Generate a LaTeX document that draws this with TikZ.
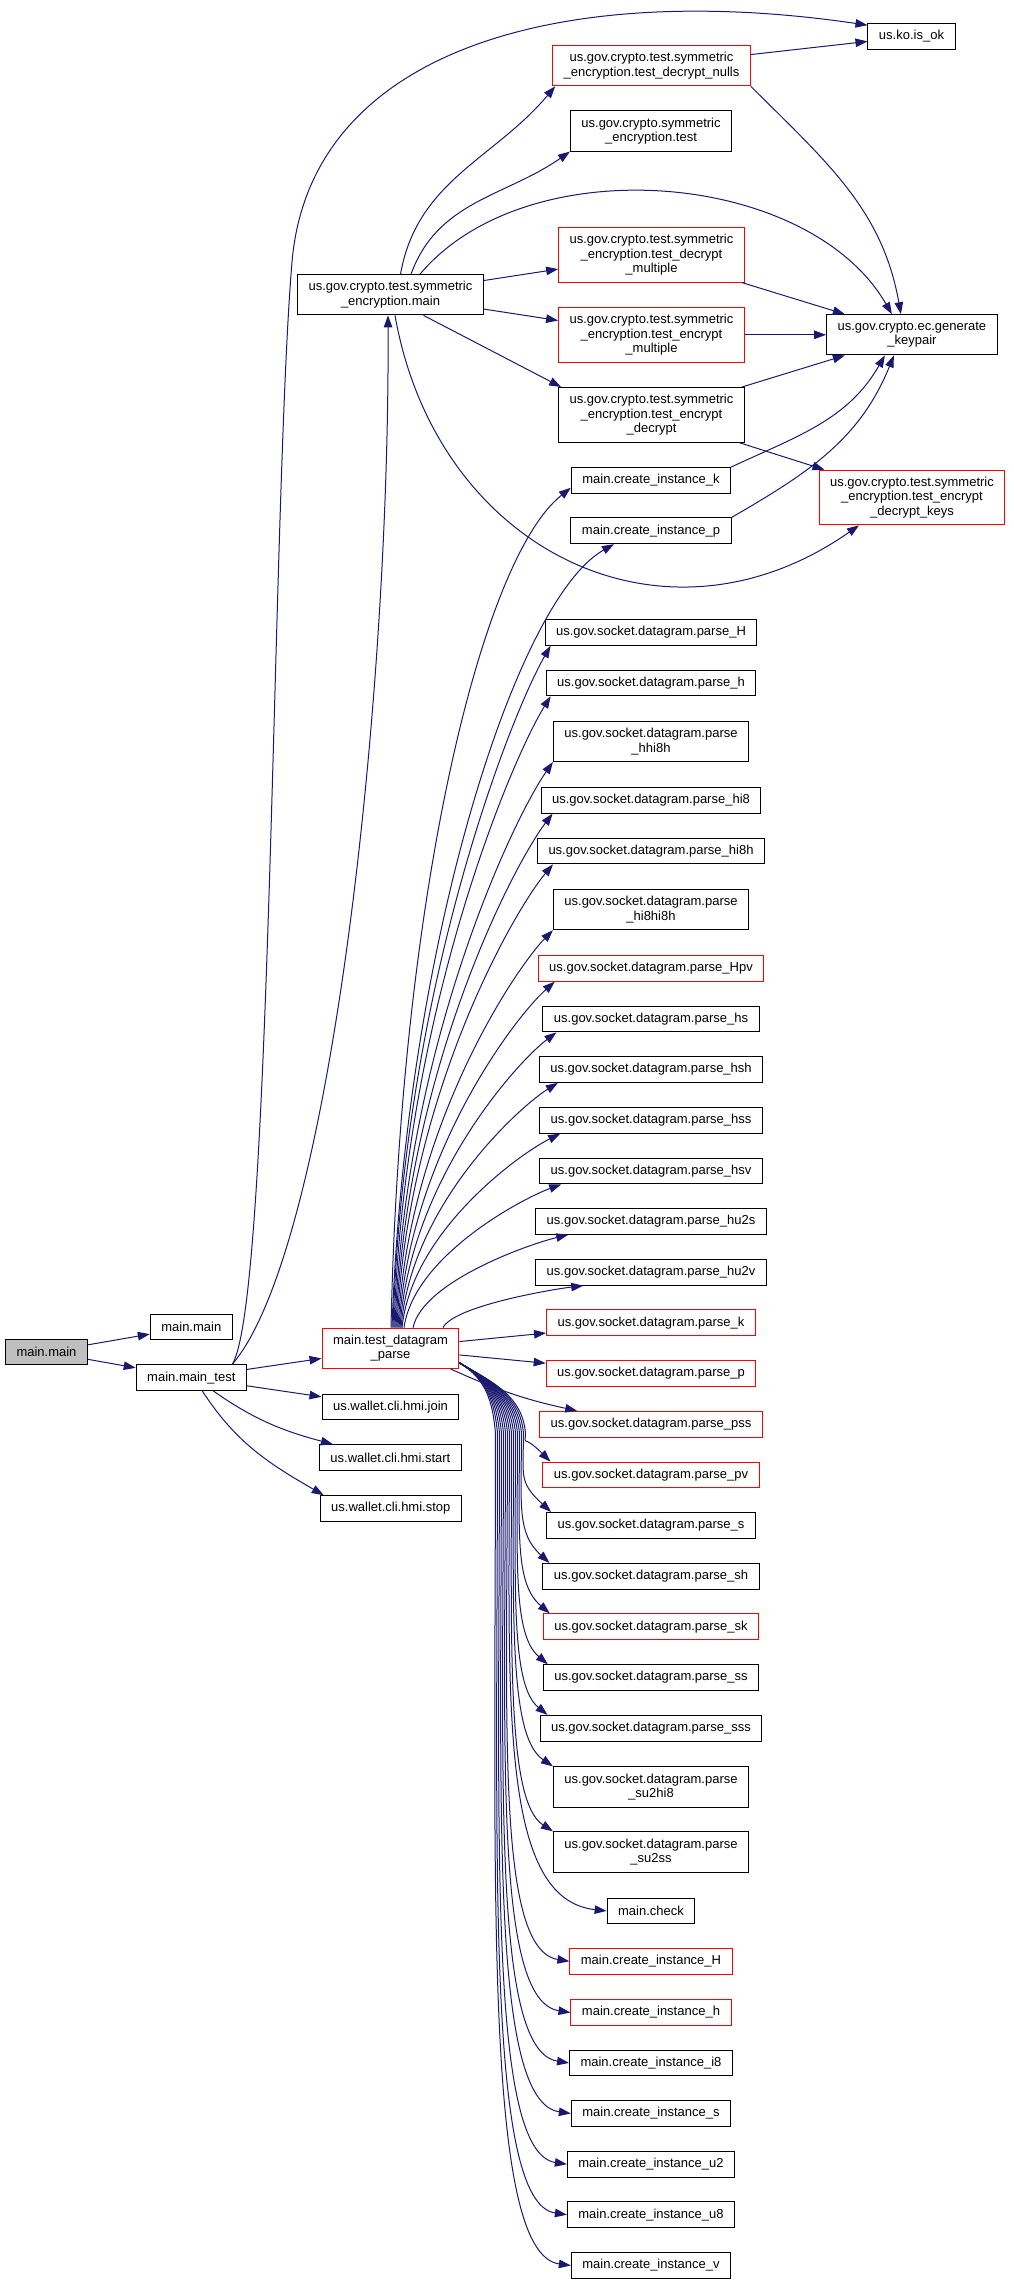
\documentclass[tikz,border=0pt]{standalone}
\usepackage{fontspec}
\setmainfont{Liberation Sans}
\usetikzlibrary{arrows.meta,calc}

\begin{document}
\begin{tikzpicture}[x=1pt,y=-1pt,
  fn/.style={draw=black,line width=1pt,fill=white,inner xsep=11pt,inner ysep=2pt,
    minimum height=25.7pt,align=center,font=\fontsize{13}{14.4}\selectfont},
  redfn/.style={fn,draw=red},
  two/.style={minimum height=40.2pt},
  three/.style={minimum height=54.6pt},
  edge/.style={draw=edgeblue,line width=1pt,-{Triangle[length=12pt,width=8.5pt]}}]
\definecolor{edgeblue}{RGB}{25,25,112}
\definecolor{rootgray}{RGB}{191,191,191}
\useasboundingbox (0,0) rectangle (1013,2284);

% left part
\node[fn,fill=rootgray] (mainmain) at (46.5,1352) {main.main};
\node[fn] (mmain) at (191.3,1326.9) {main.main};
\node[fn] (mtest) at (191.3,1377.6) {main.main\_test};
\node[redfn,two] (tdp) at (390.5,1348.3) {main.test\_datagram\\\_parse};
\node[fn] (join) at (390.5,1406.9) {us.wallet.cli.hmi.join};
\node[fn] (start) at (390.4,1457.6) {us.wallet.cli.hmi.start};
\node[fn] (stop) at (390.8,1508.5) {us.wallet.cli.hmi.stop};
\node[fn,two] (semain) at (390.5,294.8) {us.gov.crypto.test.symmetric\\\_encryption.main};

% crypto column
\node[redfn,two] (nulls) at (651.5,65.7) {us.gov.crypto.test.symmetric\\\_encryption.test\_decrypt\_nulls};
\node[fn,two] (setest) at (651,131) {us.gov.crypto.symmetric\\\_encryption.test};
\node[redfn,three] (decmult) at (651.5,254.8) {us.gov.crypto.test.symmetric\\\_encryption.test\_decrypt\\\_multiple};
\node[redfn,three] (encmult) at (651.5,334.8) {us.gov.crypto.test.symmetric\\\_encryption.test\_encrypt\\\_multiple};
\node[fn,three] (encdec) at (651.5,414.8) {us.gov.crypto.test.symmetric\\\_encryption.test\_encrypt\\\_decrypt};
\node[fn] (cik) at (651,480.4) {main.create\_instance\_k};
\node[fn] (cip) at (651,530.8) {main.create\_instance\_p};

% right column
\node[fn] (isok) at (911.5,36.5) {us.ko.is\_ok};
\node[fn,two] (keypair) at (911.9,334.8) {us.gov.crypto.ec.generate\\\_keypair};
\node[redfn,three] (keys) at (912,497.5) {us.gov.crypto.test.symmetric\\\_encryption.test\_encrypt\\\_decrypt\_keys};

% datagram column
\node[fn] (pH) at (651,632.5) {us.gov.socket.datagram.parse\_H};
\node[fn] (ph) at (651,682.9) {us.gov.socket.datagram.parse\_h};
\node[fn,two] (phhi8h) at (651,741.4) {us.gov.socket.datagram.parse\\\_hhi8h};
\node[fn] (phi8) at (651,800.2) {us.gov.socket.datagram.parse\_hi8};
\node[fn] (phi8h) at (651,851) {us.gov.socket.datagram.parse\_hi8h};
\node[fn,two] (phi8hi8h) at (651,909.6) {us.gov.socket.datagram.parse\\\_hi8hi8h};
\node[redfn] (pHpv) at (651,968.3) {us.gov.socket.datagram.parse\_Hpv};
\node[fn] (phs) at (651,1019) {us.gov.socket.datagram.parse\_hs};
\node[fn] (phsh) at (651,1069.5) {us.gov.socket.datagram.parse\_hsh};
\node[fn] (phss) at (651,1120.4) {us.gov.socket.datagram.parse\_hss};
\node[fn] (phsv) at (651,1171) {us.gov.socket.datagram.parse\_hsv};
\node[fn] (phu2s) at (651,1221.4) {us.gov.socket.datagram.parse\_hu2s};
\node[fn] (phu2v) at (651,1272.3) {us.gov.socket.datagram.parse\_hu2v};
\node[redfn] (pk) at (651,1322.8) {us.gov.socket.datagram.parse\_k};
\node[redfn] (pp) at (651,1373.3) {us.gov.socket.datagram.parse\_p};
\node[redfn] (ppss) at (651,1424.2) {us.gov.socket.datagram.parse\_pss};
\node[redfn] (ppv) at (651,1475) {us.gov.socket.datagram.parse\_pv};
\node[fn] (ps) at (651,1525.3) {us.gov.socket.datagram.parse\_s};
\node[fn] (psh) at (651,1576.2) {us.gov.socket.datagram.parse\_sh};
\node[redfn] (psk) at (651,1626.7) {us.gov.socket.datagram.parse\_sk};
\node[fn] (pss) at (651,1677.6) {us.gov.socket.datagram.parse\_ss};
\node[fn] (psss) at (651,1728.2) {us.gov.socket.datagram.parse\_sss};
\node[fn,two] (psu2hi8) at (651,1786.9) {us.gov.socket.datagram.parse\\\_su2hi8};
\node[fn,two] (psu2ss) at (651,1851.9) {us.gov.socket.datagram.parse\\\_su2ss};
\node[fn] (check) at (651,1910.9) {main.check};
\node[redfn] (ciH) at (651,1961.3) {main.create\_instance\_H};
\node[redfn] (cih) at (651,2012.5) {main.create\_instance\_h};
\node[fn] (cii8) at (651,2062.9) {main.create\_instance\_i8};
\node[fn] (cis) at (651,2113.5) {main.create\_instance\_s};
\node[fn] (ciu2) at (651,2164.2) {main.create\_instance\_u2};
\node[fn] (ciu8) at (651,2214.7) {main.create\_instance\_u8};
\node[fn] (civ) at (651,2265.5) {main.create\_instance\_v};

% calls of main.main and main.main_test
\draw[edge] (mainmain) -- (mmain);
\draw[edge] (mainmain) -- (mtest);
\draw[edge] (mtest) -- (tdp);
\draw[edge] (mtest) -- (join);
\draw[edge] ([xshift=22pt]mtest.south) to[out=-35,in=165] ([xshift=14pt]start.north west);
\draw[edge] ([xshift=11pt]mtest.south) to[out=-57,in=150] ([xshift=4pt]stop.north west);
\draw[edge] ([xshift=41pt]mtest.north) .. controls (330,1250) and (390,700) .. ([xshift=-2.5pt]semain.south);
\coordinate (okbend) at (292,262);
\draw[edge] ([xshift=41pt]mtest.north) .. controls (272,1300) and (272,500) .. (okbend)
  .. controls (310,50) and (560,-20) .. ([yshift=-2pt]isok.north west);

% symmetric_encryption.main
\draw[edge] ([xshift=10pt]semain.north) to[out=80,in=-130] ([xshift=3pt]nulls.south west);
\draw[edge] ([xshift=20.5pt]semain.north) to[out=70,in=-145] (setest.south west);
\draw[edge] ([xshift=29.5pt]semain.north) to[out=50,in=120,looseness=0.9] ([xshift=-20pt]keypair.north);
\draw[edge] (semain) -- (decmult);
\draw[edge] (semain) -- (encmult);
\draw[edge] ([xshift=33pt]semain.south) -- ([xshift=3pt]encdec.north west);
\draw[edge] ([xshift=4.5pt]semain.south) to[out=-80,in=-145,looseness=1.2] ([xshift=-53pt]keys.south);

% into generate_keypair
\draw[edge] (nulls) -- (isok);
\draw[edge] (nulls.south east) to[out=-45,in=100] ([xshift=-11pt]keypair.north);
\draw[edge] (decmult) -- (keypair);
\draw[edge] (encmult) -- (keypair);
\draw[edge] (encdec) -- (keypair);
\draw[edge] (encdec) -- (keys);
\draw[edge] (cik.north east) to[out=25,in=-120] ([xshift=-27pt]keypair.south);
\draw[edge] (cip.north east) to[out=30,in=-112] ([xshift=-18pt]keypair.south);

% test_datagram_parse, upwards
\draw[edge] ([xshift=0.5pt]tdp.north) .. controls (400,900) and (480,560) .. ([yshift=6pt]cik.south west);
\draw[edge] ([xshift=1.5pt]tdp.north) .. controls (405,950) and (515,600) .. ([xshift=-37pt]cip.south);
\foreach \nm/\sx/\en in {pH/2.5/6,ph/3.5/5,phhi8h/4.5/0,phi8/5.5/12,phi8h/6.5/16,phi8hi8h/7.5/0,
    pHpv/8.5/17,phs/9.5/14,phsh/10.5/19,phss/11.5/21,phsv/13.5/22,phu2s/22.5/33,phu2v/52.5/48}
  \draw[edge] let \p1=([xshift=\sx pt]tdp.north), \p2=([xshift=\en pt]\nm.south west) in
    (\p1) .. controls (\x1+10pt,{\y1+0.5*(\y2-\y1)}) and ({\x2-0.25*(\x2-\x1)},{\y2-0.1*(\y2-\y1)}) .. (\p2);

% test_datagram_parse, sideways
\draw[edge] (tdp) -- (pk);
\draw[edge] (tdp) -- (pp);
\draw[edge] ([xshift=-9pt]tdp.south east) to[bend right=6] ([xshift=38pt]ppss.north west);

% test_datagram_parse, downwards (bundle bends at x+\bx, 70 below the start)
\foreach \nm/\en/\bx in {ppv/8/66pt,ps/5/64pt,psh/7/62pt,psk/7/60pt,pss/5/58pt,psss/8/56pt,
    psu2hi8/0/54pt,psu2ss/0/52pt}
  \draw[edge] let \p1=([yshift=6pt]tdp.south east), \p2=([xshift=\en pt]\nm.north west) in
    (\p1) to[out=-30,in=95] (\x1+\bx,\y1-70pt)
    .. controls (\x1+\bx,{\y1-70pt+0.55*(\y2-\y1+70pt)}) and (\x1+\bx-5pt,\y2+30pt) .. (\p2);
\foreach \nm/\bx in {check/50pt,ciH/48pt,cih/46pt,cii8/44pt,cis/42pt,ciu2/40pt,ciu8/38pt,civ/36pt}
  \draw[edge] let \p1=([yshift=6pt]tdp.south east), \p2=(\nm.west) in
    (\p1) to[out=-30,in=95] (\x1+\bx,\y1-70pt)
    .. controls (\x1+\bx,{\y1-70pt+0.55*(\y2-\y1+70pt)}) and (\x1+\bx-12pt,\y2+12pt) .. (\p2);
\end{tikzpicture}
\end{document}
